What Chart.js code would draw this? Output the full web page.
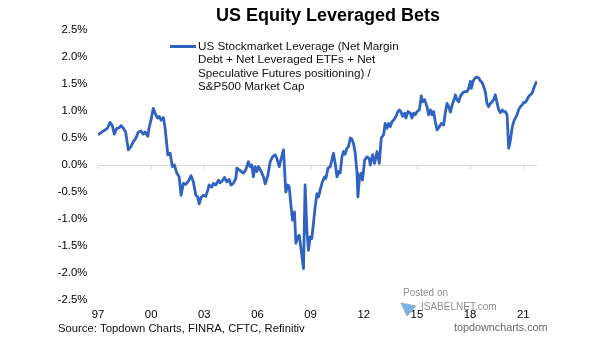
<!DOCTYPE html>
<html>
<head>
<meta charset="utf-8">
<script src="https://cdn.jsdelivr.net/npm/chart.js@4.4.1/dist/chart.umd.min.js"></script>
<style>
    html, body { margin: 0; padding: 0; background: #fff; }
    #wrap { width: 605px; height: 341px; }
</style>
</head>
<body>
<div id="wrap"><canvas id="chart" width="605" height="341"></canvas></div>
<script>
// Fechas en años decimales y apalancamiento en % del market cap
const dates = [
    1997.00, 1997.21, 1997.40, 1997.53, 1997.68, 1997.81, 1997.92,
    1998.06, 1998.19, 1998.30, 1998.43, 1998.56, 1998.71, 1998.86, 1998.99,
    1999.13, 1999.28, 1999.43, 1999.56, 1999.66, 1999.81, 1999.88, 1999.99,
    2000.12, 2000.26, 2000.37, 2000.46, 2000.56, 2000.69, 2000.79, 2000.94,
    2001.07, 2001.20, 2001.31, 2001.45, 2001.58, 2001.69, 2001.82, 2001.95,
    2002.10, 2002.25, 2002.38, 2002.52, 2002.63, 2002.71, 2002.82, 2002.95,
    2003.08, 2003.20, 2003.27, 2003.42, 2003.51, 2003.65, 2003.80, 2003.89,
    2004.02, 2004.14, 2004.27, 2004.40, 2004.51, 2004.64, 2004.78, 2004.84, 2004.97,
    2005.08, 2005.21, 2005.34, 2005.49, 2005.59, 2005.68, 2005.77, 2005.87, 2005.97,
    2006.06, 2006.21, 2006.34, 2006.44, 2006.59, 2006.72, 2006.85,
    2007.00, 2007.10, 2007.23, 2007.34, 2007.47, 2007.60, 2007.72, 2007.79, 2007.90, 2007.98,
    2008.09, 2008.17, 2008.28, 2008.36, 2008.47, 2008.60, 2008.69, 2008.79, 2008.88, 2008.98,
    2009.07, 2009.16, 2009.26, 2009.36, 2009.45, 2009.54, 2009.67, 2009.79, 2009.86, 2009.98,
    2010.11, 2010.20, 2010.29, 2010.39, 2010.49, 2010.58, 2010.67, 2010.77, 2010.86, 2010.95,
    2011.05, 2011.14, 2011.24, 2011.33, 2011.42, 2011.52, 2011.62, 2011.67, 2011.75, 2011.86, 2011.93,
    2012.05, 2012.18, 2012.31, 2012.37, 2012.50, 2012.61, 2012.75, 2012.88, 2012.99,
    2013.12, 2013.21, 2013.31, 2013.40, 2013.50, 2013.59, 2013.68, 2013.82, 2013.93,
    2014.02, 2014.12, 2014.19, 2014.31, 2014.38, 2014.50, 2014.63, 2014.72, 2014.81, 2014.91,
    2015.01, 2015.14, 2015.25, 2015.32, 2015.44, 2015.57, 2015.66, 2015.76, 2015.85, 2015.94,
    2016.04, 2016.14, 2016.27, 2016.38, 2016.51, 2016.60, 2016.70, 2016.79, 2016.89,
    2017.02, 2017.13, 2017.17, 2017.26, 2017.36, 2017.45, 2017.60, 2017.73, 2017.83, 2017.92,
    2018.02, 2018.07, 2018.17, 2018.24, 2018.36, 2018.49, 2018.58, 2018.68, 2018.77, 2018.86, 2018.96,
    2019.05, 2019.15, 2019.24, 2019.33, 2019.43, 2019.53, 2019.62, 2019.71, 2019.81, 2019.90, 2019.99,
    2020.09, 2020.18, 2020.28, 2020.37, 2020.46, 2020.56, 2020.65, 2020.75, 2020.84, 2020.94,
    2021.03, 2021.12, 2021.22, 2021.31, 2021.41, 2021.50, 2021.60, 2021.69, 2021.78
];
const leverage = [
    0.56, 0.61, 0.65, 0.68, 0.79, 0.73, 0.57,
    0.68, 0.69, 0.73, 0.68, 0.61, 0.28, 0.34, 0.43,
    0.49, 0.61, 0.63, 0.57, 0.61, 0.53, 0.68, 0.83,
    1.05, 0.93, 0.87, 0.90, 0.83, 0.88, 0.68, 0.19,
    0.22, -0.03, 0.00, -0.15, -0.22, -0.56, -0.34, -0.36,
    -0.30, -0.20, -0.31, -0.56, -0.59, -0.72, -0.60, -0.56,
    -0.58, -0.46, -0.37, -0.41, -0.34, -0.37, -0.28, -0.33,
    -0.29, -0.23, -0.31, -0.27, -0.37, -0.34, -0.25, -0.06, -0.09,
    -0.12, -0.15, -0.09, 0.06, -0.03, 0.00, -0.22, -0.03, -0.12,
    -0.03, -0.12, -0.22, -0.35, -0.19, 0.06, 0.15,
    0.19, 0.12, -0.03, 0.12, 0.28, -0.50, -0.37, -0.40, -0.77, -1.02,
    -0.87, -1.45, -1.33, -1.30, -1.58, -1.92, -0.37, -1.21, -1.58, -1.33,
    -1.36, -1.08, -0.77, -0.53, -0.59, -0.46, -0.31, -0.22, -0.25, -0.06,
    -0.03, 0.09, 0.22, 0.03, -0.22, -0.12, -0.15, 0.15, 0.25, 0.20,
    0.31, 0.34, 0.50, 0.48, 0.40, 0.22, -0.15, -0.59, -0.28, -0.15, -0.28,
    0.09, 0.15, 0.12, 0.00, 0.19, 0.03, 0.25, 0.03, 0.50,
    0.56, 0.77, 0.68, 0.77, 0.71, 0.80, 0.83, 0.90, 0.99,
    1.02, 0.97, 0.90, 0.96, 0.87, 0.99, 0.96, 0.87, 0.96, 0.93,
    0.99, 1.02, 1.28, 1.17, 1.21, 1.08, 0.93, 1.02, 0.93, 0.99,
    0.80, 0.65, 0.71, 0.77, 0.74, 0.96, 1.14, 1.09, 0.98,
    1.14, 1.24, 1.30, 1.21, 1.17, 1.27, 1.34, 1.36, 1.36, 1.42,
    1.55, 1.42, 1.55, 1.59, 1.63, 1.61, 1.56, 1.53, 1.45, 1.36, 1.14,
    1.08, 1.14, 1.17, 1.21, 1.30, 1.14, 1.02, 0.97, 1.02, 0.99, 0.99,
    0.93, 0.31, 0.46, 0.68, 0.80, 0.87, 0.93, 1.03, 1.08, 1.11,
    1.16, 1.16, 1.21, 1.27, 1.30, 1.33, 1.42, 1.50, 1.55
];
const tickYears = [1997, 2000, 2003, 2006, 2009, 2012, 2015, 2018, 2021];
const yTicks = [-2.5, -2.0, -1.5, -1.0, -0.5, 0.0, 0.5, 1.0, 1.5, 2.0, 2.5];

const titleText = 'US Equity Leveraged Bets';
const seriesLabel = [
    'US Stockmarket Leverage (Net Margin',
    'Debt + Net Leveraged ETFs + Net',
    'Speculative Futures positioning) /',
    'S&P500 Market Cap'
];
const sourceText = 'Source: Topdown Charts, FINRA, CFTC, Refinitiv';
const siteText = 'topdowncharts.com';

const FONT = "'Liberation Sans', Arial, sans-serif";
const LINE_COLOR = '#2F62C1';

// Textos, leyenda y línea de cero
const extras = {
    id: 'extras',
    beforeDatasetsDraw(chart) {
        const { ctx, chartArea, scales } = chart;
        const y0 = scales.y.getPixelForValue(0);
        ctx.save();
        ctx.strokeStyle = '#d9d9d9';
        ctx.lineWidth = 1;
        ctx.beginPath();
        ctx.moveTo(chartArea.left, y0 + 0.5);
        ctx.lineTo(chartArea.right, y0 + 0.5);
        tickYears.forEach(yr => {
            const x = Math.round(scales.x.getPixelForValue(yr)) + 0.5;
            ctx.moveTo(x, y0);
            ctx.lineTo(x, y0 + 4);
        });
        ctx.stroke();
        ctx.restore();
    },
    afterDraw(chart) {
        const { ctx } = chart;
        ctx.save();
        ctx.textBaseline = 'middle';

        // titulo
        ctx.fillStyle = '#000';
        ctx.font = 'bold 18px ' + FONT;
        ctx.textAlign = 'center';
        ctx.fillText(titleText, 328, 16);

        // leyenda
        ctx.strokeStyle = LINE_COLOR;
        ctx.lineWidth = 3;
        ctx.beginPath();
        ctx.moveTo(170, 46.5);
        ctx.lineTo(196, 46.5);
        ctx.stroke();
        ctx.font = '11.7px ' + FONT;
        ctx.textAlign = 'left';
        ctx.fillStyle = '#111';
        seriesLabel.forEach((line, i) => {
            ctx.fillText(line, 198, 46.5 + i * 13.4);
        });

        // fuente y sitio
        ctx.font = '11.3px ' + FONT;
        ctx.fillStyle = '#111';
        ctx.fillText(sourceText, 58, 328.5);
        ctx.font = '10.8px ' + FONT;
        ctx.fillStyle = '#666';
        ctx.fillText(siteText, 454, 328.5);

        // marca de agua
        ctx.globalAlpha = 0.85;
        ctx.fillStyle = '#7a7a7a';
        ctx.font = '10px ' + FONT;
        ctx.fillText('Posted on', 403, 293.5);
        ctx.fillText('ISABELNET.com', 421, 307);
        ctx.fillStyle = '#5aa9e0';
        ctx.strokeStyle = '#9aa4b0';
        ctx.lineWidth = 1;
        ctx.beginPath();
        ctx.moveTo(401, 303);
        ctx.lineTo(416, 306);
        ctx.lineTo(407, 316);
        ctx.closePath();
        ctx.fill();
        ctx.stroke();
        ctx.restore();
    }
};

new Chart(document.getElementById('chart'), {
    type: 'line',
    data: {
        datasets: [{
            label: seriesLabel.join(' '),
            data: dates.map((d, i) => ({ x: d, y: leverage[i] })),
            borderColor: LINE_COLOR,
            borderWidth: 2.8,
            pointRadius: 0,
            tension: 0,
            borderJoinStyle: 'round',
            fill: false
        }]
    },
    options: {
        responsive: false,
        animation: false,
        devicePixelRatio: 1,
        layout: { padding: { left: 0, right: 68, top: 30, bottom: 19 } },
        plugins: {
            legend: { display: false },
            title: { display: false },
            tooltip: { enabled: false }
        },
        scales: {
            x: {
                type: 'linear',
                min: 1997,
                max: 2021.78,
                afterBuildTicks: scale => { scale.ticks = tickYears.map(v => ({ value: v })); },
                afterFit: scale => { scale.height = 22; },
                grid: { display: false, drawTicks: false, tickLength: 0 },
                border: { display: false },
                ticks: {
                    callback: v => String(v).slice(2),
                    color: '#000',
                    padding: 8,
                    maxRotation: 0,
                    autoSkip: false,
                    font: { family: FONT, size: 11.3 }
                }
            },
            y: {
                min: -2.5,
                max: 2.5,
                afterBuildTicks: scale => { scale.ticks = yTicks.map(v => ({ value: v })); },
                afterFit: scale => { scale.width = 98; },
                grid: { display: false, drawTicks: false, tickLength: 0 },
                border: { display: false },
                ticks: {
                    callback: v => v.toFixed(1) + '%',
                    color: '#000',
                    padding: 10.7,
                    font: { family: FONT, size: 11.3 }
                }
            }
        }
    },
    plugins: [extras]
});
</script>
</body>
</html>
